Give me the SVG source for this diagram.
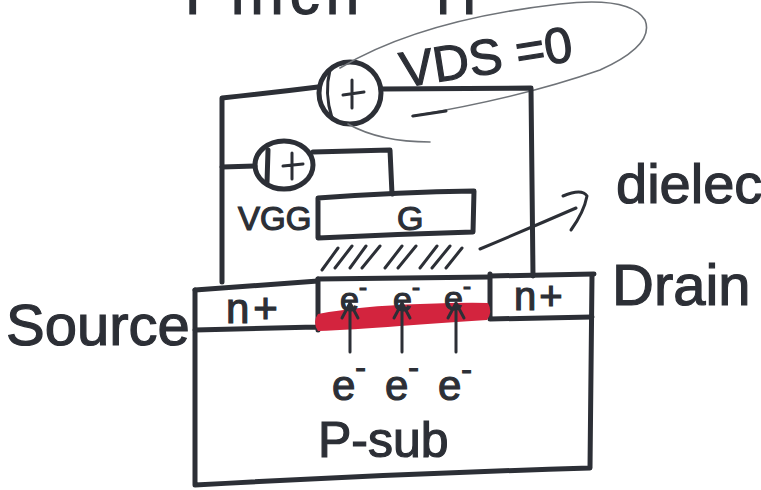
<svg xmlns="http://www.w3.org/2000/svg" width="761" height="490" viewBox="0 0 761 490">
  <defs>
    <style>
      .ink { fill: none; stroke: #2c2f36; stroke-width: 5; stroke-linecap: round; stroke-linejoin: round; }
      .thin { fill: none; stroke: #2c2f36; stroke-width: 3; stroke-linecap: round; stroke-linejoin: round; }
      .pencil { fill: none; stroke: #6f7378; stroke-width: 1.6; stroke-linecap: round; }
      .lbl { font-family: "Liberation Sans", "DejaVu Sans", sans-serif; fill: #2c2f36; stroke: #2c2f36; stroke-width: 1.2; }
    </style>
  </defs>

  <rect width="761" height="490" fill="#ffffff"/>

  <!-- heading, cut off at the top edge -->
  <g id="heading">
    <text class="lbl" x="185" y="14" font-size="60" letter-spacing="6">Pinch</text>
    <text class="lbl" x="436" y="14" font-size="56">H</text>
  </g>

  <!-- p-type substrate with the two n+ wells -->
  <g id="substrate">
    <path class="ink" d="M195,290 L195,485 Q390,474 590,468 L592,275"/>
    <text class="lbl" x="318" y="457" font-size="50">P-sub</text>
    <g id="sub-electrons">
      <text class="lbl" x="332" y="400" font-size="42">e<tspan font-size="32" dy="-22">-</tspan></text>
      <text class="lbl" x="385" y="400" font-size="42">e<tspan font-size="32" dy="-22">-</tspan></text>
      <text class="lbl" x="438" y="400" font-size="42">e<tspan font-size="32" dy="-20">-</tspan></text>
    </g>
  </g>

  <g id="source-well">
    <path class="ink" d="M195,290 L318,281 M195,330 L316,327 M318,279 L318,330"/>
    <text class="lbl" x="226" y="323" font-size="42" letter-spacing="4">n+</text>
  </g>

  <g id="drain-well">
    <path class="ink" d="M490,276 L594,274 M490,274 L490,319 L592,317"/>
    <text class="lbl" x="514" y="310" font-size="40" letter-spacing="3">n+</text>
  </g>

  <!-- inversion channel -->
  <g id="channel">
    <path d="M318,314 Q360,306 420,304 Q470,302 488,303 Q493,312 487,320 Q440,323 400,326 Q350,330 318,331 Q312,322 318,314 Z" fill="#d3243e"/>
    <text class="lbl" x="340" y="311" font-size="34">e<tspan font-size="24" dy="-16">-</tspan></text>
    <text class="lbl" x="393" y="311" font-size="34">e<tspan font-size="24" dy="-16">-</tspan></text>
    <text class="lbl" x="444" y="310" font-size="34">e<tspan font-size="24" dy="-16">-</tspan></text>
  </g>

  <!-- gate oxide and gate -->
  <g id="oxide">
    <path class="ink" d="M318,279 L490,277"/>
    <path class="thin" d="M322,270 L338,248 M335,268 L352,246 M350,268 L366,246 M362,268 L380,246 M385,268 L402,246 M398,268 L416,246 M420,268 L437,246 M432,268 L450,246 M446,268 L462,248"/>
  </g>

  <g id="gate">
    <path class="ink" d="M318,198 Q400,192 474,191 L473,232 Q400,234 318,238 Z"/>
    <text class="lbl" x="397" y="230" font-size="34">G</text>
  </g>

  <!-- bias sources -->
  <g id="vgg-source">
    <ellipse class="ink" cx="284" cy="165" rx="29" ry="24"/>
    <path class="ink" d="M268,150 L267,183"/>
    <path class="thin" d="M283,166 L303,164 M292,153 L292,179"/>
    <text class="lbl" x="238" y="230" font-size="33">VGG</text>
  </g>

  <g id="vds-source">
    <ellipse class="ink" cx="350" cy="93" rx="31" ry="31"/>
    <path class="thin" d="M330,70 Q324,93 332,118"/>
    <path class="thin" d="M343,95 L364,92 M352,80 L352,108"/>
    <text class="lbl" x="398" y="75" font-size="50" transform="rotate(-9 480 50)">VDS =0</text>
    <path class="pencil" d="M340,68 Q420,20 560,4 Q630,-4 645,20 Q655,45 600,70 Q520,98 412,116"/>
    <path class="pencil" d="M348,124 Q380,142 430,142"/>
    <path class="thin" d="M413,116 L446,111"/>
  </g>

  <!-- wiring -->
  <g id="connectors">
    <path class="ink" d="M222,282 L222,98 Q270,93 318,87"/>
    <path class="ink" d="M381,89 L531,88 L533,276"/>
    <path class="ink" d="M222,167 L255,166"/>
    <path class="ink" d="M313,152 L390,150 L392,194"/>
    <!-- electron flow up into the channel -->
    <path class="thin" d="M350,352 L350,304 M342,318 L350,303 L358,318"/>
    <path class="thin" d="M402,352 L402,304 M394,318 L402,303 L410,318"/>
    <path class="thin" d="M456,352 L456,304 M448,318 L456,303 L464,318"/>
    <!-- pointer to the dielectric -->
    <path class="thin" d="M480,249 Q530,228 576,208"/>
    <path class="thin" d="M563,196 Q582,188 587,196 Q584,212 571,230"/>
  </g>

  <!-- side labels -->
  <g id="labels">
    <text class="lbl" x="6" y="345" font-size="58">Source</text>
    <text class="lbl" x="612" y="305" font-size="58">Drain</text>
    <text class="lbl" x="616" y="203" font-size="56">dielectric</text>
  </g>
</svg>
